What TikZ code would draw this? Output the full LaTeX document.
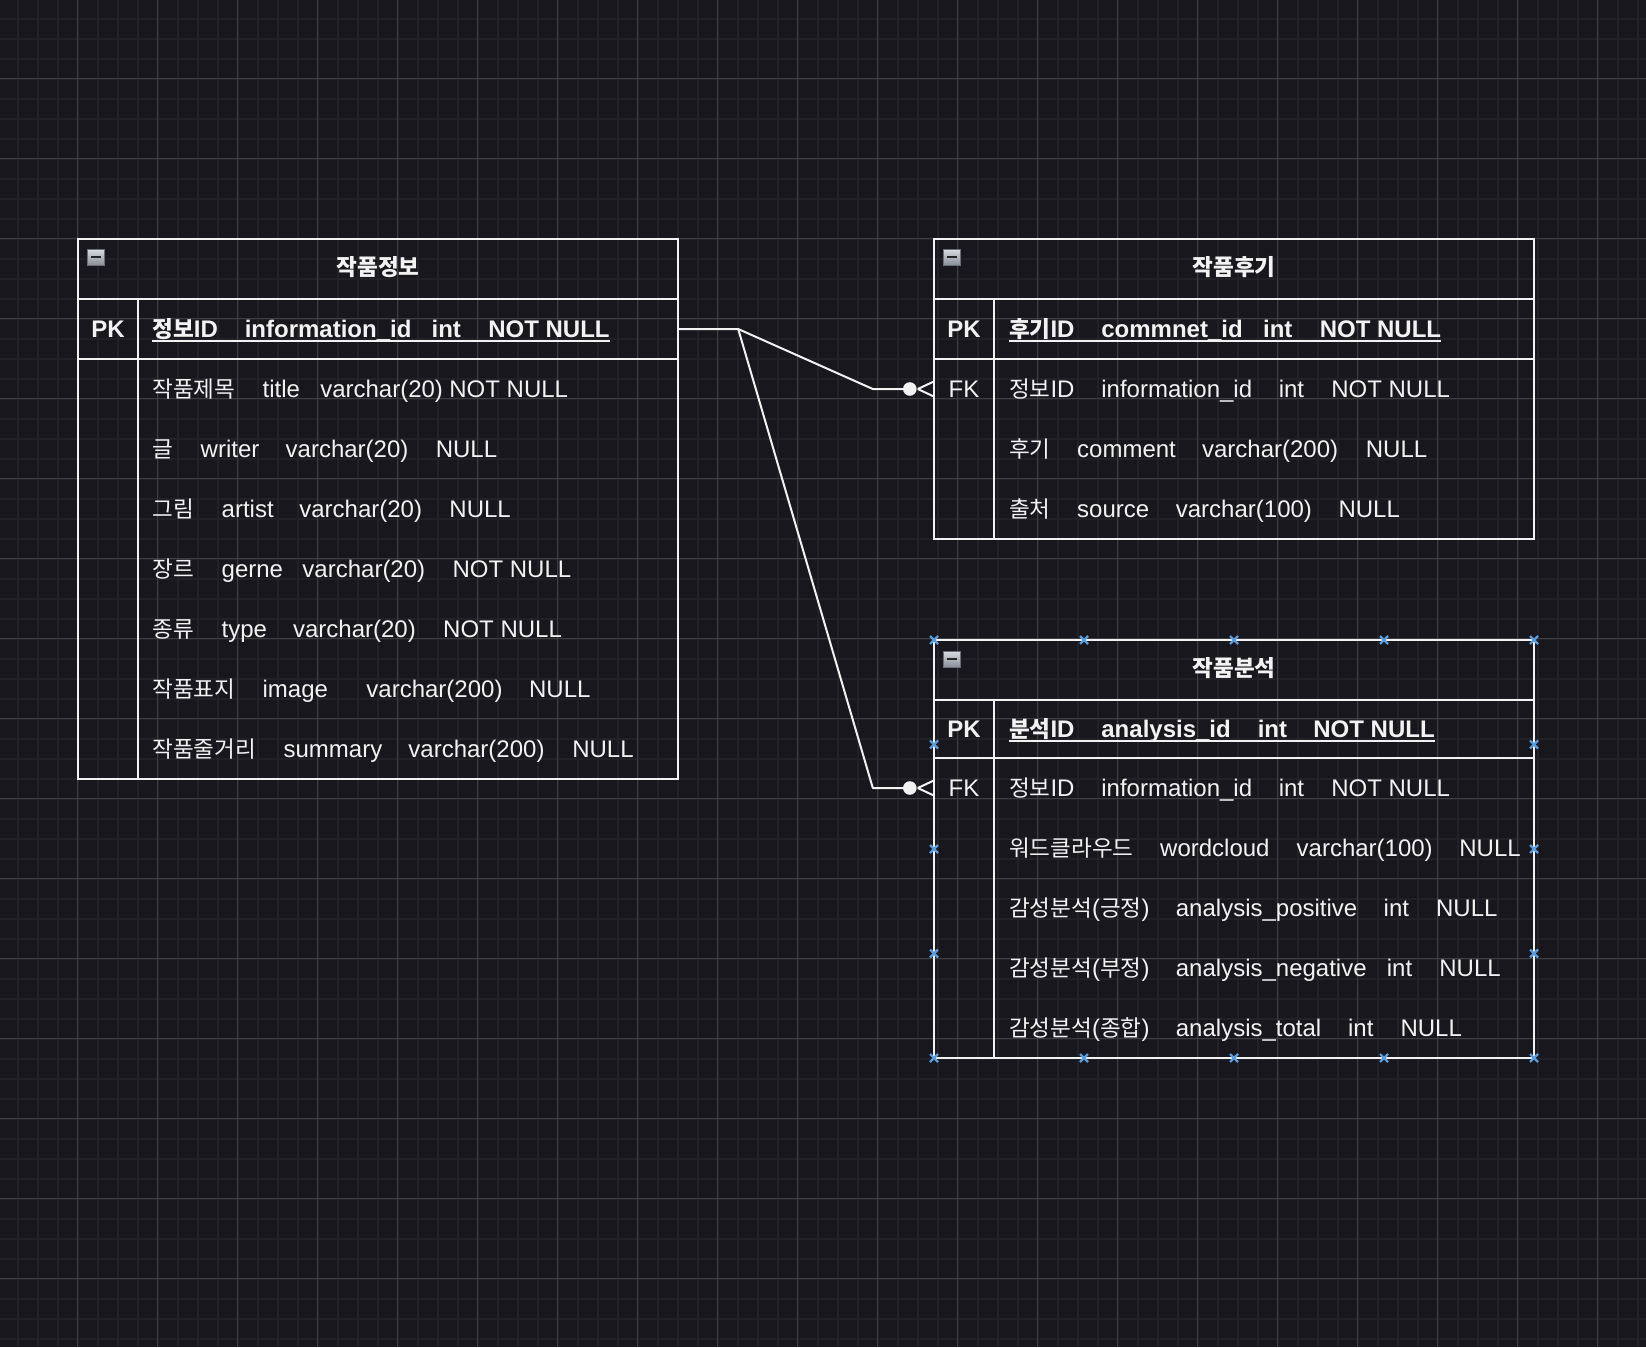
\documentclass[tikz,border=0pt]{standalone}
\usepackage{fontspec}
\setmainfont{Liberation Sans}
\newfontfamily\krfont{Noto Sans CJK KR}[Scale=0.94]
\usetikzlibrary{calc}

\definecolor{canvas}{HTML}{18171D}
\definecolor{gridminor}{HTML}{222127}
\definecolor{gridmajor}{HTML}{3E3E43}
\definecolor{ink}{HTML}{F2F2F2}
\definecolor{selblue}{HTML}{5A9BDB}
\definecolor{btntop}{HTML}{DADDE2}
\definecolor{btnbot}{HTML}{8A8F98}
\definecolor{btnedge}{HTML}{6A6E76}

% Korean run and fixed-width column cell
\newcommand\kr[1]{{\krfont #1}}
\newcommand\cw[2]{\makebox[#1pt][l]{#2}}

\tikzset{
  fld/.style={anchor=base west, inner sep=0pt, text=ink, font=\fontsize{24}{28}\selectfont},
  fldb/.style={fld, font=\fontsize{24}{28}\selectfont\bfseries},
  keylbl/.style={anchor=base, inner sep=0pt, text=ink, font=\fontsize{24}{28}\selectfont},
  keylblb/.style={keylbl, font=\fontsize{24}{28}\selectfont\bfseries},
  tabletitle/.style={anchor=base, inner sep=0pt, text=ink, font=\fontsize{24}{28}\selectfont\bfseries},
  border/.style={draw=ink, line width=2pt},
  rowarea/.style={minimum width=600pt, minimum height=60pt, inner sep=0pt, draw=none},
  conn/.style={draw=ink, line width=2pt, line join=round},
  ul/.style={draw=ink, line width=2pt},
  zeromany/.pic={
    \fill[ink] (-24,0) circle (6.8);
    \draw[conn] (-16,0) -- (0,-7.5) (-16,0) -- (0,7.5);
  },
  selmark/.pic={
    \draw[selblue, line width=2.2pt] (-4,-4) -- (4,4) (-4,4) -- (4,-4);
  },
  minusbtn/.pic={
    \shade[top color=btntop, bottom color=btnbot] (9,10) rectangle (26,26);
    \draw[btnedge, line width=0.8pt] (9,10) rectangle (26,26);
    \draw[black!85, line width=2.6pt] (12.5,18) -- (22.5,18);
  },
}

\begin{document}
\begin{tikzpicture}[x=1pt, y=-1pt]
  \useasboundingbox (0,0) rectangle (1646,1347);
  \fill[canvas] (0,0) rectangle (1646,1347);

  % background grid
  \begin{scope}
    \clip (0,0) rectangle (1646,1347);
    \foreach \x in {17.5,37.5,...,1646} \draw[gridminor, line width=2pt] (\x,0) -- (\x,1347);
    \foreach \y in {18.5,38.5,...,1347} \draw[gridminor, line width=2pt] (0,\y) -- (1646,\y);
    \foreach \x in {77.5,157.5,...,1646} \draw[gridmajor, line width=1.2pt] (\x,0) -- (\x,1347);
    \foreach \y in {78.5,158.5,...,1347} \draw[gridmajor, line width=1.2pt] (0,\y) -- (1646,\y);
  \end{scope}

  % ---------------- table: 작품정보 ----------------
  \draw[border] (78,239) rectangle (678,779);
  \draw[border] (78,299) -- (678,299) (78,359) -- (678,359) (138,299) -- (138,779);
  \pic at (78,239) {minusbtn};
  \node[tabletitle] (infoHead) at (378,275) {\kr{작품정보}};
  \node[rowarea] (infoPK) at (378,329) {};
  \node[keylblb] (infoPKkey) at (108,337.6) {PK};
  \node[fldb] (infoPKtxt) at (152.2,337.6) {\cw{92.4}{\kr{정보}ID}\cw{186.8}{information\_id}\cw{56.7}{int}NOT NULL};
  \draw[ul] ($(infoPKtxt.base west)+(0,3)$) -- ($(infoPKtxt.base east)+(0,3)$);
  \node[fld] (infoR1) at (152.2,397.6) {\cw{110.2}{\kr{작품제목}}\cw{57.7}{title}\cw{129.1}{varchar(20)}NOT NULL};
  \node[fld] (infoR2) at (152.2,457.6) {\cw{48.3}{\kr{글}}\cw{85}{writer}\cw{150.1}{varchar(20)}NULL};
  \node[fld] (infoR3) at (152.2,517.6) {\cw{69.3}{\kr{그림}}\cw{77.7}{artist}\cw{150.1}{varchar(20)}NULL};
  \node[fld] (infoR4) at (152.2,577.6) {\cw{69.3}{\kr{장르}}\cw{80.8}{gerne}\cw{150.1}{varchar(20)}NOT NULL};
  \node[fld] (infoR5) at (152.2,637.6) {\cw{69.3}{\kr{종류}}\cw{71.4}{type}\cw{150.1}{varchar(20)}NOT NULL};
  \node[fld] (infoR6) at (152.2,697.6) {\cw{110.2}{\kr{작품표지}}\cw{103.9}{image}\cw{162.7}{varchar(200)}NULL};
  \node[fld] (infoR7) at (152.2,757.6) {\cw{131.2}{\kr{작품줄거리}}\cw{124.9}{summary}\cw{163.8}{varchar(200)}NULL};

  % ---------------- table: 작품후기 ----------------
  \draw[border] (934,239) rectangle (1534,539);
  \draw[border] (934,299) -- (1534,299) (934,359) -- (1534,359) (994,299) -- (994,539);
  \pic at (934,239) {minusbtn};
  \node[tabletitle] (reviewHead) at (1234,275) {\kr{작품후기}};
  \node[keylblb] (reviewPKkey) at (964,337.6) {PK};
  \node[fldb] (reviewPKtxt) at (1008.8,337.6) {\cw{92.4}{\kr{후기}ID}\cw{161.7}{commnet\_id}\cw{56.7}{int}NOT NULL};
  \draw[ul] ($(reviewPKtxt.base west)+(0,3)$) -- ($(reviewPKtxt.base east)+(0,3)$);
  \node[rowarea] (reviewFK) at (1234,389) {};
  \node[keylbl] (reviewFKkey) at (964,397.6) {FK};
  \node[fld] (reviewR1) at (1008.8,397.6) {\cw{92.4}{\kr{정보}ID}\cw{177.4}{information\_id}\cw{52.5}{int}NOT NULL};
  \node[fld] (reviewR2) at (1008.8,457.6) {\cw{68.2}{\kr{후기}}\cw{124.9}{comment}\cw{163.8}{varchar(200)}NULL};
  \node[fld] (reviewR3) at (1008.8,517.6) {\cw{68.2}{\kr{출처}}\cw{98.7}{source}\cw{162.7}{varchar(100)}NULL};

  % ---------------- table: 작품분석 ----------------
  \draw[border] (934,640) rectangle (1534,1058);
  \draw[border] (934,700) -- (1534,700) (934,758) -- (1534,758) (994,700) -- (994,1058);
  \pic at (934,641) {minusbtn};
  \node[tabletitle] (anaHead) at (1234,676) {\kr{작품분석}};
  \node[keylblb] (anaPKkey) at (964,737.6) {PK};
  \node[fldb] (anaPKtxt) at (1008.8,737.6) {\cw{92.4}{\kr{분석}ID}\cw{156.4}{analysis\_id}\cw{55.6}{int}NOT NULL};
  \draw[ul] ($(anaPKtxt.base west)+(0,3)$) -- ($(anaPKtxt.base east)+(0,3)$);
  \node[rowarea] (analysisFK) at (1234,788) {};
  \node[keylbl] (anaFKkey) at (964,796.6) {FK};
  \node[fld] (anaR1) at (1008.8,796.6) {\cw{92.4}{\kr{정보}ID}\cw{177.4}{information\_id}\cw{52.5}{int}NOT NULL};
  \node[fld] (anaR2) at (1008.8,856.6) {\cw{151.2}{\kr{워드클라우드}}\cw{136.5}{wordcloud}\cw{162.7}{varchar(100)}NULL};
  \node[fld] (anaR3) at (1008.8,916.6) {\cw{166.9}{\kr{감성분석}(\kr{긍정})}\cw{207.8}{analysis\_positive}\cw{52.5}{int}NULL};
  \node[fld] (anaR4) at (1008.8,976.6) {\cw{166.9}{\kr{감성분석}(\kr{부정})}\cw{211}{analysis\_negative}\cw{52.5}{int}NULL};
  \node[fld] (anaR5) at (1008.8,1036.6) {\cw{166.9}{\kr{감성분석}(\kr{종합})}\cw{172.2}{analysis\_total}\cw{52.5}{int}NULL};

  % selection handles around 작품분석
  \foreach \x in {934,1084,1234,1384,1534} {
    \pic at (\x,640) {selmark};
    \pic at (\x,1058) {selmark};
  }
  \foreach \y in {744.5,849,953.5} {
    \pic at (934,\y) {selmark};
    \pic at (1534,\y) {selmark};
  }

  % ---------------- relationships ----------------
  \coordinate (split) at ([xshift=60pt]infoPK.east);
  \coordinate (bendA) at ([xshift=-61pt]reviewFK.west);
  \coordinate (bendB) at ([xshift=-61pt]analysisFK.west);
  \draw[conn] (infoPK.east) -- (split) -- (bendA) -- ([xshift=-24pt]reviewFK.west);
  \draw[conn] (split) -- (bendB) -- ([xshift=-24pt]analysisFK.west);
  \pic at (reviewFK.west) {zeromany};
  \pic at (analysisFK.west) {zeromany};
\end{tikzpicture}
\end{document}
